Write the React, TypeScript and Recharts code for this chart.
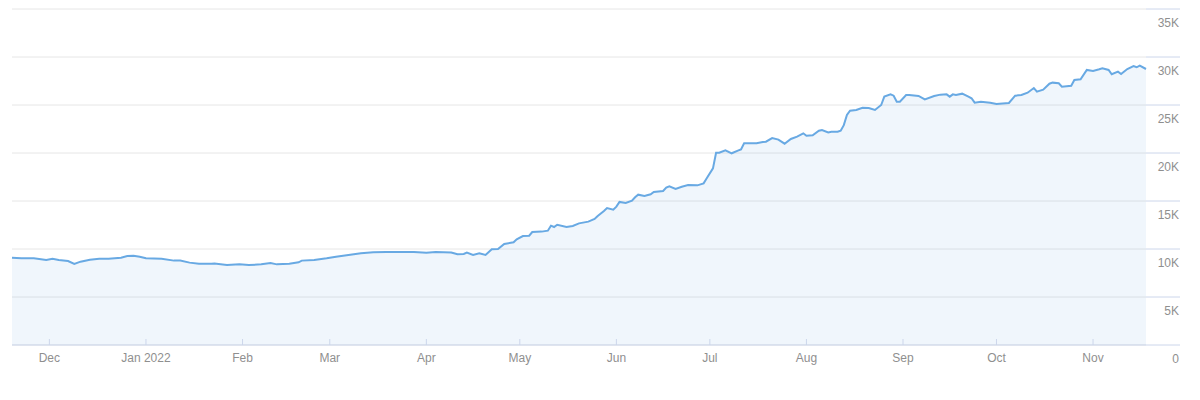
import React from "react";
import { AreaChart, Area, XAxis, YAxis, CartesianGrid } from "recharts";

// day offset from 2021-11-19
const days = [
  0, 3, 7, 11, 13, 15, 18, 20, 22, 25, 28, 31, 35, 37, 39, 41, 43, 48, 52, 54, 57, 60, 64,
  65, 69, 73, 76, 80, 83, 85, 89, 92, 93, 97, 101, 104, 108, 112, 116, 120, 125, 129, 133, 136,
  141, 143, 145, 146, 148, 150, 152, 154, 156, 158, 161, 162, 164, 166, 167, 170, 172, 173, 174,
  175, 178, 180, 182, 185, 187, 188, 190, 191, 193, 194, 195, 197, 199, 200, 201, 203, 205, 206,
  209, 210, 211, 213, 215, 217, 220, 222, 223, 225, 226, 227, 229, 231, 233, 234, 235, 239, 241,
  242, 244, 246, 248, 250, 252, 254, 255, 257, 259, 260, 262, 263, 265, 266, 267, 268, 269, 271,
  273, 275, 277, 279, 280, 282, 283, 284, 285, 287, 288, 291, 293, 296, 298, 300, 301, 302, 303,
  305, 307, 308, 309, 311, 314, 316, 320, 322, 324, 326, 328, 329, 331, 333, 334, 336, 337, 340,
  341, 343, 345, 347, 349, 350, 352, 353, 355, 356, 358, 360, 361, 362, 364,
];

const values = [
  9100, 9030, 9030, 8850, 8970, 8850, 8750, 8440, 8680, 8890, 8990, 8990, 9090, 9270, 9300, 9200,
  9030, 8990, 8790, 8790, 8580, 8470, 8470,
  8500, 8330, 8400, 8330, 8400, 8540, 8400, 8470, 8610, 8790, 8850, 9030, 9200, 9380, 9550, 9650,
  9690, 9690, 9690, 9620, 9690,
  9640, 9450, 9480, 9620, 9380, 9550, 9380, 9970, 10000, 10520, 10700, 11010, 11350, 11390, 11770,
  11810, 11910, 12430, 12290, 12530, 12290, 12400, 12670, 12850, 13130, 13440, 13960, 14270,
  14100, 14410, 14900, 14790, 15030, 15390, 15660, 15520, 15700, 15940,
  16040, 16390, 16530, 16250, 16490, 16670, 16630, 16840, 17360, 18400, 20030, 20030, 20280,
  19970, 20240, 20380, 21010, 21010, 21150,
  21180, 21560, 21390, 20970, 21460, 21700, 22050, 21800, 21840, 22320, 22400, 22150, 22220,
  22220, 22330, 22900, 23960, 24410, 24480,
  24720, 24690, 24480, 25000, 25870, 26110, 25970, 25350, 25350, 26040, 26040, 25940, 25590,
  25940, 26080, 26110, 25870, 26110, 26040,
  26180, 25870, 25700, 25240, 25350, 25240, 25100, 25210, 25970, 26040, 26280, 26770, 26390,
  26600, 27220, 27330, 27260, 26910, 27010,
  27600, 27680, 28650, 28540, 28720, 28820, 28650, 28200, 28470, 28230, 28750, 29060, 28930,
  29100, 28750,
];

const monthTickDays = [12, 43, 74, 102, 133, 163, 194, 224, 255, 286, 316, 347];
const monthTickLabels = ["Dec", "Jan 2022", "Feb", "Mar", "Apr", "May", "Jun", "Jul", "Aug", "Sep", "Oct", "Nov"];
const yTicks = [0, 5000, 10000, 15000, 20000, 25000, 30000, 35000];
const yTickLabels = ["0", "5K", "10K", "15K", "20K", "25K", "30K", "35K"];

const data = days.map((d, i) => ({ day: d, value: values[i] }));

const FONT = '"Liberation Sans", Arial, sans-serif';
const AXIS_COLOR = "#ccd6eb";
const LABEL_COLOR = "#8f8f8f";
const LINE_COLOR = "#68a9e3";

const XTick = (props: any) => {
  const { x, y, payload } = props;
  const idx = monthTickDays.indexOf(payload.value);
  return (
    <g>
      <line x1={x} x2={x} y1={y - 6} y2={y} stroke={AXIS_COLOR} strokeWidth={1} />
      <text x={x} y={y + 17} textAnchor="middle" fill={LABEL_COLOR} fontSize={12} fontFamily={FONT}>
        {idx >= 0 ? monthTickLabels[idx] : ""}
      </text>
    </g>
  );
};

const YTick = (props: any) => {
  const { x, y, payload } = props;
  const idx = yTicks.indexOf(payload.value);
  return (
    <text x={x - 1} y={y + 18} textAnchor="end" fill={LABEL_COLOR} fontSize={12} fontFamily={FONT}>
      {idx >= 0 ? yTickLabels[idx] : ""}
    </text>
  );
};

export default function App() {
  return (
    <div style={{ width: 1184, height: 384 }}>
      <AreaChart
        width={1184}
        height={384}
        data={data}
        margin={{ top: 1, right: 12, bottom: 0, left: 4 }}
      >
        <CartesianGrid horizontal={true} vertical={false} stroke="#e6e6e6" />
        <XAxis
          dataKey="day"
          type="number"
          domain={[0, 364]}
          ticks={monthTickDays}
          interval={0}
          height={47}
          tickSize={0}
          tickMargin={0}
          axisLine={{ stroke: AXIS_COLOR }}
          tickLine={false}
          tick={<XTick />}
        />
        <YAxis
          orientation="right"
          type="number"
          domain={[0, 35000]}
          ticks={yTicks}
          interval={0}
          width={34}
          tickSize={34}
          tickMargin={0}
          axisLine={false}
          tickLine={{ stroke: AXIS_COLOR }}
          tick={<YTick />}
        />
        <Area
          type="linear"
          dataKey="value"
          stroke={LINE_COLOR}
          strokeWidth={2}
          fill={LINE_COLOR}
          fillOpacity={0.1}
          isAnimationActive={false}
          dot={false}
          activeDot={false}
        />
      </AreaChart>
    </div>
  );
}
